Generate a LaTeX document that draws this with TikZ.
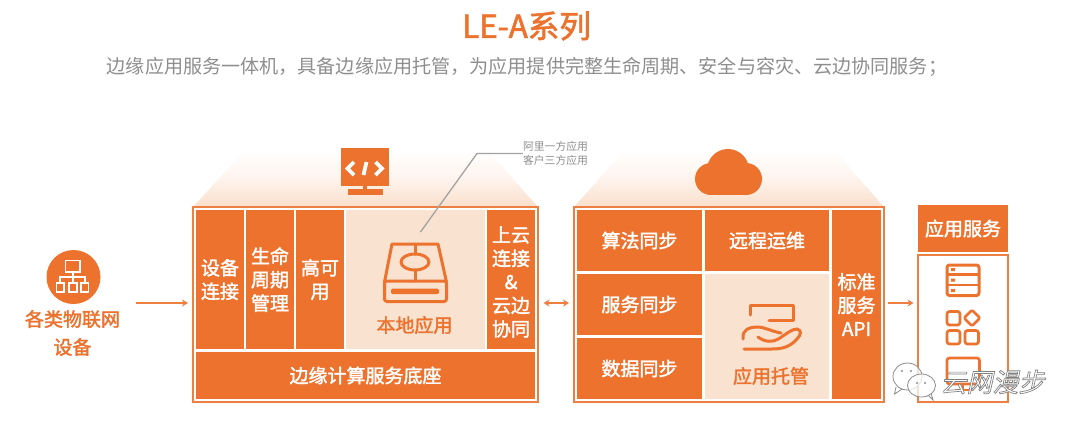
\documentclass[tikz,border=0pt]{standalone}
\usepackage{fontspec}
\setmainfont{Noto Sans CJK SC}
\newfontfamily\wmfont[FakeSlant=0.22,FakeBold=2.6]{Noto Sans CJK SC}
\newfontfamily\medfont[FakeBold=1.9]{Noto Sans CJK SC}
\usetikzlibrary{arrows.meta}
\definecolor{ora}{HTML}{EC722E}
\definecolor{lightora}{HTML}{F9E2D0}
\definecolor{frameora}{HTML}{EE7F42}
\definecolor{housetint}{HTML}{FADFCB}
\definecolor{subgray}{HTML}{8E8E8E}
\definecolor{leadgray}{HTML}{A3A3A3}
\definecolor{wmgray}{HTML}{8C8C8C}
\tikzset{
  cellbox/.style={fill=ora,text=white,inner sep=0pt,align=center,font=\fontsize{19}{23.5}\selectfont\medfont},
  softbox/.style={fill=lightora,inner sep=0pt},
  framebox/.style={draw=frameora,line width=1.6pt,inner sep=0pt,fill=white},
  flow/.style={draw=frameora,line width=1.4pt,-{Stealth[length=6pt,width=7pt]}},
  flowboth/.style={draw=frameora,line width=1.4pt,{Stealth[length=6pt,width=7pt]}-{Stealth[length=6pt,width=7pt]}},
  icon/.style={draw=ora,line width=3pt,line join=round,line cap=round},
  wicon/.style={draw=white,line width=1.8pt},
  oralabel/.style={text=ora,inner sep=0pt,align=center,font=\fontsize{19}{28}\selectfont\medfont},
  note/.style={text=subgray,inner sep=0pt,align=left,font=\fontsize{10.8}{14}\selectfont},
  bubble/.style={draw=wmgray,line width=0.8pt,fill=white,fill opacity=0.75}
}
\begin{document}
\begin{tikzpicture}[x=1pt,y=-1pt]
\useasboundingbox (0,0) rectangle (1080,429);
\fill[white] (0,0) rectangle (1080,429);

% title
\node[text=ora,inner sep=0pt,font=\fontsize{31.5}{32}\selectfont\medfont] (title) at (526.5,26) {LE-A系列};
\node[text=subgray,inner sep=0pt,font=\fontsize{19.1}{22}\selectfont] (subtitle) at (527,67) {边缘应用服务一体机，具备边缘应用托管，为应用提供完整生命周期、安全与容灾、云边协同服务；};

% roofs
\shade[top color=white,bottom color=housetint,middle color=housetint!35] (193,207) -- (245,150) -- (487,150) -- (538,207) -- cycle;
\shade[top color=white,bottom color=housetint,middle color=housetint!35] (574,207) -- (625,150) -- (834,150) -- (884,207) -- cycle;

% monitor icon
\fill[ora] (340.5,148) rectangle (389,186);
\fill[ora] (362.5,186) rectangle (367,190);
\fill[ora] (347.5,189) rectangle (383,195);
\draw[white,line width=3.6pt,line join=miter] (354,162) -- (347.5,168.5) -- (354,175);
\draw[white,line width=3.6pt,line join=miter] (375.5,162) -- (382,168.5) -- (375.5,175);
\draw[white,line width=3.8pt] (366.5,162) -- (363.5,175);

% cloud icon
\fill[ora] (728,170) circle (21);
\fill[ora] (711,179) circle (16);
\fill[ora] (746,179) circle (16);
\fill[ora] (711,172) rectangle (746,195);

% left frame
\node[framebox,minimum width=345pt,minimum height=195pt] (edge) at (365.5,304.5) {};
\node[cellbox,minimum width=48pt,minimum height=139pt] (device) at (220,279.5) {设备\\连接};
\node[cellbox,minimum width=48pt,minimum height=139pt] (life) at (270,279.5) {生命\\周期\\管理};
\node[cellbox,minimum width=48pt,minimum height=139pt] (ha) at (320,279.5) {高可\\用};
\node[softbox,minimum width=139pt,minimum height=139pt] (local) at (415.5,279.5) {};
\node[cellbox,minimum width=48pt,minimum height=139pt] (upcloud) at (511,279.5) {};
\node[cellbox,fill=none] (upcloudlabel) at (511,282) {上云\\连接\\\&\\云边\\协同};
\node[cellbox,minimum width=339pt,minimum height=47pt] (base) at (365.5,375.5) {边缘计算服务底座};
\node[oralabel] (locallabel) at (414.5,325) {本地应用};

% disk icon
\draw[icon] (384.5,282) -- (392,244) -- (438,244) -- (446.5,282);
\draw[icon,rounded corners=2.5pt] (384.5,281) rectangle (446.5,301.5);
\draw[icon] (415,244) -- (415,254);
\draw[icon] (415,270) -- (415,281);
\draw[icon] (415,262) ellipse (14 and 8);
\fill[ora,rounded corners=1.5pt] (391,288.5) rectangle (439,294);

% leader line and note
\node[note] (appnote) at (555.5,153) {阿里一方应用\\客户三方应用};
\coordinate (leadend) at (420.5,232);
\coordinate (leadknee) at (477,153.5);
\draw[leadgray,line width=1.3pt] (leadend) -- (leadknee) -- (519,153.5 -| appnote.west);

% right frame
\node[framebox,minimum width=310pt,minimum height=195pt] (cloudframe) at (729,304.5) {};
\node[cellbox,minimum width=125pt,minimum height=61pt] (algo) at (639.5,240.5) {算法同步};
\node[cellbox,minimum width=125pt,minimum height=61pt] (svc) at (639.5,304.5) {服务同步};
\node[cellbox,minimum width=125pt,minimum height=61pt] (data) at (639.5,368.5) {数据同步};
\node[cellbox,minimum width=124pt,minimum height=61pt] (ops) at (767,240.5) {远程运维};
\node[softbox,minimum width=124pt,minimum height=125pt] (hosting) at (767,336.5) {};
\node[cellbox,minimum width=49pt,minimum height=189pt] (api) at (856.5,304.5) {标准\\服务\\API};
\node[oralabel] (hostlabel) at (771,376) {应用托管};

% hand icon
\draw[icon] (769,320) -- (793,320) -- (793,305) -- (750,305) -- (750,315);
\draw[icon] (743,339) .. controls (742,329) and (750,327) .. (757,327) .. controls (765,327) and (770,331) .. (781,333);
\draw[icon] (758,337) .. controls (765,342) and (772,343) .. (780,338) .. controls (786,334) and (792,329) .. (797,329) .. controls (802,330) and (801,335) .. (797,339) .. controls (790,347) and (782,349) .. (772,349) -- (744,349);

% app service
\node[cellbox,minimum width=90pt,minimum height=47pt] (appsvc) at (963,228.5) {应用服务};
\node[draw=frameora,line width=1.5pt,inner sep=0pt,minimum width=90pt,minimum height=147pt] (appbox) at (963,328.5) {};

% list icon
\draw[icon,rounded corners=2.5pt] (947,265) rectangle (979,295.5);
\draw[icon,line width=2.2pt] (947,274.5) -- (979,274.5) (947,285) -- (979,285);
\fill[ora] (951,268) rectangle (955,271) (951,278.5) rectangle (955,281.5) (951,289) rectangle (955,292);
% grid icon
\draw[icon,rounded corners=2.5pt,line width=2.7pt] (947,311.5) rectangle (960,325);
\draw[icon,rounded corners=2.5pt,line width=2.7pt] (947,330.5) rectangle (960,344);
\draw[icon,rounded corners=2.5pt,line width=2.7pt] (965,330.5) rectangle (978.5,344);
\draw[icon,rounded corners=1.5pt,line width=2.7pt] (972,310) -- (980,318) -- (972,326) -- (964,318) -- cycle;
% third icon
\draw[icon,rounded corners=2.5pt,line width=2.7pt] (947,358) rectangle (979.5,384);
\draw[icon,line width=2.7pt] (956,390) -- (972,390);
\draw[icon,line width=2.7pt] (963,384) -- (963,390);

% IoT device
\node[circle,fill=ora,inner sep=0pt,minimum size=54pt] (iot) at (73.5,277) {};
\node[oralabel] (iotlabel) at (72.5,333) {各类物联网\\设备};
\draw[wicon] (65.5,260.5) rectangle (80,272);
\draw[wicon] (73,272) -- (73,277) (60,283) -- (60,277) -- (85,277) -- (85,283) (73,277) -- (73,283);
\draw[wicon] (56.5,283) rectangle (64,292);
\draw[wicon] (69,283) rectangle (77,292);
\draw[wicon] (81,283) rectangle (88.5,292);

% flow arrows
\coordinate (a1s) at (136,303);
\coordinate (a1e) at (188,303);
\draw[flow] (a1s) -- (a1e);
\coordinate (a2s) at (543.5,303);
\coordinate (a2e) at (569,303);
\draw[flowboth] (a2s) -- (a2e);
\coordinate (a3s) at (887.5,303);
\coordinate (a3e) at (913.5,303);
\draw[flow] (a3s) -- (a3e);

% watermark
\draw[bubble] (896,387) -- (894.5,394) -- (903,388.5);
\draw[bubble] (907.5,376.5) ellipse (14.5 and 13.5);
\draw[bubble] (928,395) -- (933,400) -- (931,393);
\draw[bubble] (921.5,385.5) ellipse (14 and 11.5);
\fill[wmgray] (902,371) circle (1.1) (911,371) circle (1.1) (917,383) circle (1.1) (925,383) circle (1.1);
\node[inner sep=0pt,font=\fontsize{26}{27}\selectfont\wmfont] (wm) at (992.5,382) {\special{pdf:code 0.5 0.5 0.5 RG 1 1 1 rg}云网漫步};
\end{tikzpicture}
\end{document}
